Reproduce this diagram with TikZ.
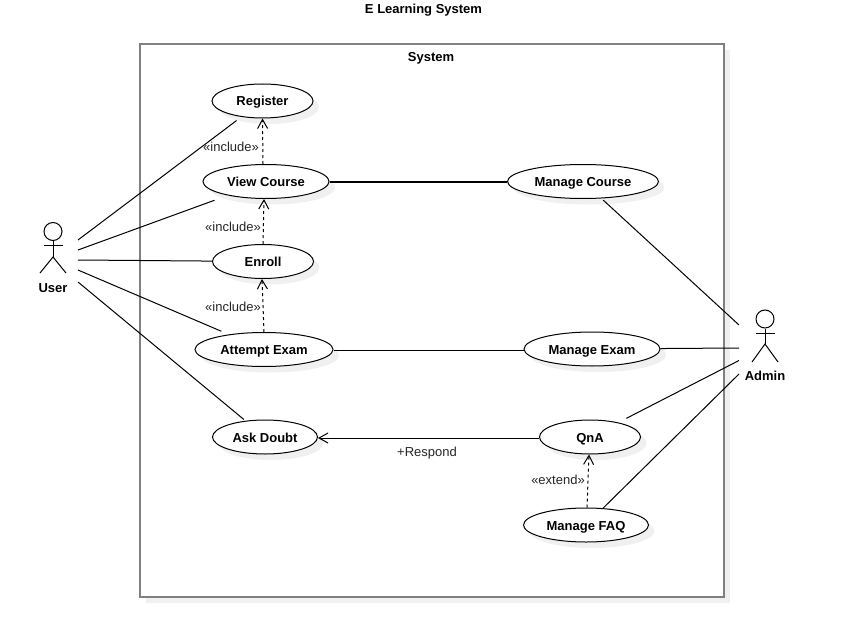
\documentclass[tikz,border=0pt]{standalone}
\usepackage{fontspec}
\setmainfont{Liberation Sans}
\usetikzlibrary{arrows.meta}
\usetikzlibrary{shapes.geometric}
\usetikzlibrary{shadows}
\tikzset{
  softshadow/.style = {drop shadow = {shadow xshift = 6pt, shadow yshift = -6pt, fill = black!6, opacity = 1}},
  usecase/.style    = {ellipse, draw, fill = white, line width = 1pt, inner sep = 0pt, minimum height = 34pt, text height = 10pt, text depth = 0pt, softshadow, font = \fontsize{13}{15}\selectfont\bfseries},
  actorname/.style  = {font = \fontsize{13}{15}\selectfont\bfseries},
  tag/.style        = {text = black!85, font = \fontsize{13}{15}\selectfont},
  assoc/.style      = {line width = 1pt},
  dep/.style        = {line width = 1pt, dash pattern = on 3pt off 3pt, -{Straight Barb[length = 9pt, width = 10pt]}},
  limb/.style       = {line width = 1pt}
}

\begin{document}
\begin{tikzpicture}[x = 1pt, y = -1pt]
        \useasboundingbox (0, 0) rectangle (845, 631);

        \node (title) at (423.5, 10)      [actorname] {E Learning System};
        \node (system) at (431.75, 320.5) [draw = black!50, line width = 2pt, fill = white, minimum width = 584.5pt, minimum height = 553pt, softshadow] {};
        \node (systemname) at (431, 58)   [actorname] {System};

        \node (register) at (262.5, 101)     [usecase, minimum width = 101pt] {Register};
        \node (viewcourse) at (266, 181.5)   [usecase, minimum width = 126pt] {View Course};
        \node (enroll) at (263, 261.5)       [usecase, minimum width = 101pt] {Enroll};
        \node (attemptexam) at (264, 349.5)  [usecase, minimum width = 138pt] {Attempt Exam};
        \node (askdoubt) at (265, 437)       [usecase, minimum width = 105pt] {Ask Doubt};
        \node (managecourse) at (583, 181.5) [usecase, minimum width = 151pt] {Manage Course};
        \node (manageexam) at (592, 349)     [usecase, minimum width = 136pt] {Manage Exam};
        \node (qna) at (590, 437)            [usecase, minimum width = 101pt] {QnA};
        \node (managefaq) at (586, 525)      [usecase, minimum width = 125pt] {Manage FAQ};

        % user
        \node (userhead) at (53, 231.5) [circle, draw, line width = 1pt, inner sep = 0pt, minimum size = 18pt] {};
        \node (username) at (53, 288) [actorname] {User};
        \coordinate (userhip) at (53, 257);
        \coordinate (userarml) at (44, 245.5);
        \coordinate (userarmr) at (63, 245.5);
        \coordinate (userlegl) at (40, 273);
        \coordinate (userlegr) at (66, 273);
        \draw[limb] (userhead) -- (userhip);
        \draw[limb] (userarml) -- (userarmr);
        \draw[limb] (userlegl) -- (userhip) -- (userlegr);

        % admin
        \node (adminhead) at (765, 319) [circle, draw, line width = 1pt, inner sep = 0pt, minimum size = 18pt] {};
        \node (adminname) at (765, 376) [actorname] {Admin};
        \coordinate (adminhip) at (765, 344);
        \coordinate (adminarml) at (756, 333.5);
        \coordinate (adminarmr) at (775, 333.5);
        \coordinate (adminlegl) at (752, 362);
        \coordinate (adminlegr) at (778, 362);
        \draw[limb] (adminhead) -- (adminhip);
        \draw[limb] (adminarml) -- (adminarmr);
        \draw[limb] (adminlegl) -- (adminhip) -- (adminlegr);

        \coordinate (usera) at (78, 240);
        \coordinate (userb) at (78, 250);
        \coordinate (userc) at (78, 260);
        \coordinate (userd) at (78, 270);
        \coordinate (usere) at (78, 282);
        \coordinate (admina) at (739, 325);
        \coordinate (adminb) at (739, 348);
        \coordinate (adminc) at (739, 360.5);
        \coordinate (admind) at (739, 374);

        \draw[assoc, shorten >= 6pt]  (usera) -- (register);
        \draw[assoc, shorten >= 14pt] (userb) -- (viewcourse);
        \draw[assoc]                  (userc) -- (enroll);
        \draw[assoc, shorten >= 8pt]  (userd) -- (attemptexam);
        \draw[assoc, shorten >= 2pt]  (usere) -- (askdoubt);
        \draw[assoc] ([yshift = -.5pt]viewcourse.east) -- ([yshift = -.5pt]managecourse.west);
        \draw[assoc] ([yshift = -.5pt]attemptexam.east) -- ([yshift = -1pt]manageexam.west);
        \draw[assoc, shorten <= 2.5pt] (managecourse) -- (admina);
        \draw[assoc]                  (manageexam) -- (adminb);
        \draw[assoc, shorten <= 9pt]  (qna) -- (adminc);
        \draw[assoc]                  (managefaq) -- (admind);
        \draw[assoc, -{Straight Barb[length = 9pt, width = 10pt]}] ([yshift = -1pt]qna.west) -- ([yshift = -1pt]askdoubt.east);

        \draw[dep] ([xshift = -3pt]viewcourse.north) -- (register.south);
        \draw[dep] (enroll.north) -- ([xshift = -2pt]viewcourse.south);
        \draw[dep] (attemptexam.north) -- ([xshift = -1pt]enroll.south);
        \draw[dep] ([xshift = 1pt]managefaq.north) -- ([xshift = -1pt]qna.south);

        \node (includea) at (231, 147)  [tag] {«include»};
        \node (includeb) at (233, 227)  [tag] {«include»};
        \node (includec) at (233, 307)  [tag] {«include»};
        \node (extend) at (558, 480)    [tag] {«extend»};
        \node (respond) at (427, 453)   [tag] {+Respond};
\end{tikzpicture}
\end{document}
